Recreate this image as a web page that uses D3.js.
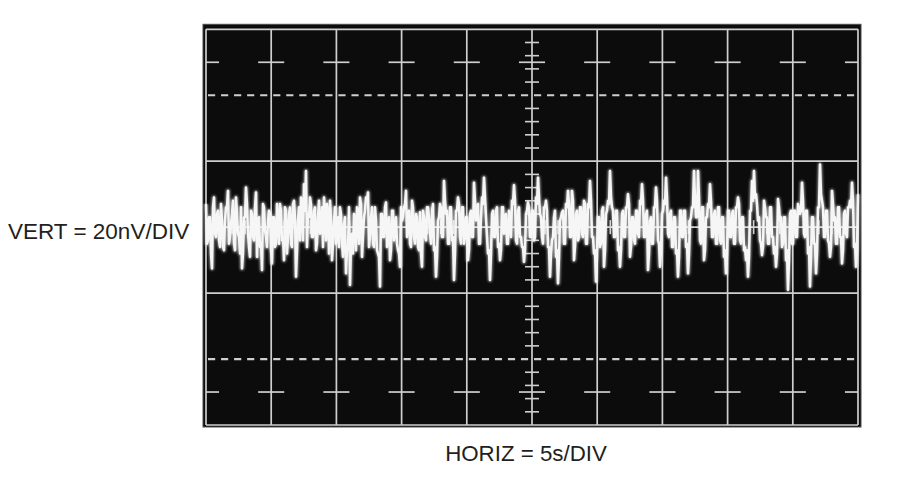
<!DOCTYPE html>
<html>
<head>
<meta charset="utf-8">
<script src="https://cdn.jsdelivr.net/npm/d3@7"></script>
<style>
  html, body { margin: 0; padding: 0; background: #ffffff; }
  svg { display: block; }
</style>
</head>
<body>
<div id="chart"></div>
<script>
// ---- data ----
const vertLabel = "VERT = 20nV/DIV";
const horizLabel = "HORIZ = 5s/DIV";
const timeDomain = [0, 50];          // seconds, 10 div x 5 s
const voltDomain = [-60, 60];        // nV, 6 div x 20 nV
const majorTimeTicks = [0, 5, 10, 15, 20, 25, 30, 35, 40, 45, 50];
const solidVoltLines = [-60, -20, 0, 20, 60];
const dashedVoltLines = [-40, 40];
const halfDivVoltRows = [-50, 50];
// noise trace, nV: main (even) samples
const traceNV = [
  7,-4,3,-12.5,9,-3,5,-6,2,-7,6,11,-3,4,-5,9,-2,-8,-12.5,3,12,-2,-9,4,-4,10.5,-1,-6,-13,6,-3,2,4,
  -11,3,-5,2,7,-4,-10,5,-3,6,-6,8,-15,2,-4,7,13,17,4,9,-3,5,-7,3,-2,6,9,-4,4,8,-10,2,-5,
  3,6,-5,1,-14,-6,-17.5,-2,4,-7,5,9,-9,3,9,10.5,-3,6,-6,2,-8,-18,4,-3,7.5,-2,-10,5,-4,3,-7,-12,2,
  6,11,2,-5,8,-3,4,-6,4.5,-12,3,-4,6,-2,5,-7,-15,2,7,-3,14,4,-5,6,-4,-16,5,9,-3,6,-5,3,
  -10,4,-3,13.5,2,7,-5,9,15,3,-8,-16,4,-3,5,-6,-10,6,-2,4,-5,3,8,12.7,-4,5,-3,-6,-10.5,4,7.5,-3,
  5,-4,9,15,4,-3,6,8,-6,-15,-4,3,-9,-17,2,4.5,-5,7,11,-3,11,-10,4,-4,6,-2,8,-5,7,14,-3,-8,-16.5,
  3,-6,5,-12,4,8,17,6,-3,5,-7,-12,4,-3,6,10,-9,3,-4,5,-2,8,13,-3,4,-13,2,-5,6,12,-4,-12,4,
  8,15,-2,4,-6,3,-8,-15,5,-3,5,-6,-14,2,6,17,3,17,-4,6,-10,3,7,13,-3,4,-5,6,-4,3,-9,-14,5,
  -3,4,-5,6,9,-4,3,-7,-10,-15,5,14,17,10,2,-4,-8.5,8,3,-5,6,-3,-8,-12,8.5,2,-6,3,-10,-19,4,-5,
  5,-3,7,4,13.5,-2,5,-8,-18,3,-5,-14,6,19,8,-3,5,-4,-9,11,2,-5,6,-3,-11,4,-2,6,8,13.5,-6,-12,10
];
// noise trace, nV: in-between (odd) samples
const traceFillNV = [
  -5,3,-8,6,-2,4,-4,7,-6,2,6,-5,1,8,-7,4,-3,6,-8,3,7,-6,5,-3,6,-9,3,-5,7,-1,-6,5,-7,
  3,-6,7,-5,5,-3,6,-8,4,-5,7,3,-7,6,9,-4,5,-6,3,7,-3,6,-5,8,-1,-6,5,7,-8,3,-5,6,-3,
  -6,4,-9,3,-7,6,-5,-8,3,6,-5,7,-3,5,8,-6,3,-5,6,-7,-9,4,-3,6,-6,3,-7,5,-1,-5,-8,6,3,
  7,-3,5,-6,6,-5,3,-7,-8,5,-3,6,3,-5,7,-6,-9,3,6,-3,8,5,-5,6,-3,-8,5,7,-5,6,-3,3,
  -7,5,-3,8,6,-5,3,7,9,-3,-7,-8,5,-3,6,-5,-7,6,3,-5,5,-3,7,8,-5,6,-3,-6,-7,5,6,-3,
  5,-3,7,9,3,-5,6,5,-6,-8,-3,5,-7,-9,3,5,-5,6,7,-3,8,-6,5,-3,6,-3,7,-5,6,8,-3,-7,-9,
  3,-5,6,-7,5,7,9,5,-3,5,-6,-7,5,-3,6,7,-6,3,-5,5,-3,7,8,-3,5,-8,3,-5,6,8,-5,-7,5,
  7,9,-3,5,-6,3,-7,-9,5,-3,5,-5,-8,3,6,9,3,9,-5,6,-7,3,6,8,-3,5,-5,6,-5,3,-7,-8,5,
  -3,5,-5,6,7,-5,3,-6,-7,-9,5,8,9,7,3,-5,-6,6,3,-5,6,-3,-6,-8,6,3,-5,3,-7,-10,5,-5,
  5,-3,6,5,8,-3,5,-6,-9,3,-5,-8,6,10,6,-3,5,-5,-6,7,3,-5,6,-3,-7,5,-3,6,6,8,-5,-7
];

// ---- layout ----
const W = 900, H = 484;
const svg = d3.select("#chart").append("svg").attr("width", W).attr("height", H);

const x = d3.scaleLinear().domain(timeDomain).range([206, 858]);
const y = d3.scaleLinear().domain(voltDomain).range([425, 29.3]);

const defs = svg.append("defs");
const glow = defs.append("filter").attr("id", "glow").attr("x", "-5%").attr("y", "-20%").attr("width", "110%").attr("height", "140%");
glow.append("feGaussianBlur").attr("in", "SourceGraphic").attr("stdDeviation", 0.9);
const soft = defs.append("filter").attr("id", "soft");
soft.append("feGaussianBlur").attr("in", "SourceGraphic").attr("stdDeviation", 0.35);

// screen
svg.append("rect")
  .attr("x", x(timeDomain[0]) - 3).attr("y", y(voltDomain[1]) - 5)
  .attr("width", x(timeDomain[1]) - x(timeDomain[0]) + 6)
  .attr("height", y(voltDomain[0]) - y(voltDomain[1]) + 7)
  .attr("fill", "#0c0c0c").attr("stroke", "#4a4a4a").attr("stroke-width", 1);

const grid = svg.append("g").attr("filter", "url(#soft)");
const gridColor = "#cfcfcf";

// vertical division lines
grid.selectAll(".vline").data(majorTimeTicks).join("line")
  .attr("x1", d => x(d)).attr("x2", d => x(d))
  .attr("y1", y(voltDomain[1])).attr("y2", y(voltDomain[0]))
  .attr("stroke", gridColor).attr("stroke-width", 1.7);

// solid horizontal lines
grid.selectAll(".hline").data(solidVoltLines).join("line")
  .attr("x1", x(timeDomain[0])).attr("x2", x(timeDomain[1]))
  .attr("y1", d => y(d)).attr("y2", d => y(d))
  .attr("stroke", gridColor).attr("stroke-width", 1.7);

// dashed horizontal lines
const minorStep = (x(5) - x(0)) / 5;
grid.selectAll(".dline").data(dashedVoltLines).join("line")
  .attr("x1", x(timeDomain[0]) + 2).attr("x2", x(timeDomain[1]))
  .attr("y1", d => y(d)).attr("y2", d => y(d))
  .attr("stroke", gridColor).attr("stroke-width", 2.2)
  .attr("stroke-dasharray", `${minorStep * 0.55} ${minorStep * 0.45}`);

// half-division tick rows
const tickHalf = minorStep;
halfDivVoltRows.forEach(v => {
  grid.selectAll(null).data(majorTimeTicks).join("line")
    .attr("x1", d => Math.max(x(timeDomain[0]), x(d) - tickHalf))
    .attr("x2", d => Math.min(x(timeDomain[1]), x(d) + tickHalf))
    .attr("y1", y(v)).attr("y2", y(v))
    .attr("stroke", gridColor).attr("stroke-width", 1.7);
});

// minor ticks on centre vertical axis
const minorVolt = d3.range(voltDomain[0] + 4, voltDomain[1], 4).filter(v => Math.abs(v % 20) > 0.01);
grid.selectAll(".mv").data(minorVolt).join("line")
  .attr("x1", x(25) - 7).attr("x2", x(25) + 7)
  .attr("y1", d => y(d)).attr("y2", d => y(d))
  .attr("stroke", gridColor).attr("stroke-width", 1.6);

// minor ticks on centre horizontal axis
const minorTime = d3.range(1, 50, 1).filter(t => t % 5 !== 0);
grid.selectAll(".mt").data(minorTime).join("line")
  .attr("x1", d => x(d)).attr("x2", d => x(d))
  .attr("y1", y(0) - 7).attr("y2", y(0) + 7)
  .attr("stroke", gridColor).attr("stroke-width", 1.6);

// trace: interleave main and in-between samples
const trace = d3.merge(traceNV.map((v, i) => i < traceFillNV.length ? [v, traceFillNV[i]] : [v]));
const n = trace.length;
const tOf = i => timeDomain[0] + i * (timeDomain[1] - timeDomain[0]) / (n - 1);
const line = d3.line().x((d, i) => x(tOf(i))).y(d => y(d));
svg.append("path").datum(trace)
  .attr("d", line).attr("fill", "none")
  .attr("stroke", "#ffffff").attr("stroke-opacity", 0.55).attr("stroke-width", 4.4)
  .attr("stroke-linejoin", "round").attr("filter", "url(#glow)");
svg.append("path").datum(trace)
  .attr("d", line).attr("fill", "none")
  .attr("stroke", "#f6f6f6").attr("stroke-width", 2.5)
  .attr("stroke-linejoin", "round");

// labels
svg.append("text").attr("x", 8).attr("y", 239)
  .attr("font-family", "Liberation Sans, Arial, sans-serif").attr("font-size", 22.5)
  .attr("fill", "#231f20").text(vertLabel);
svg.append("text").attr("x", 526).attr("y", 461)
  .attr("text-anchor", "middle")
  .attr("font-family", "Liberation Sans, Arial, sans-serif").attr("font-size", 22.3)
  .attr("fill", "#231f20").text(horizLabel);
</script>
</body>
</html>
